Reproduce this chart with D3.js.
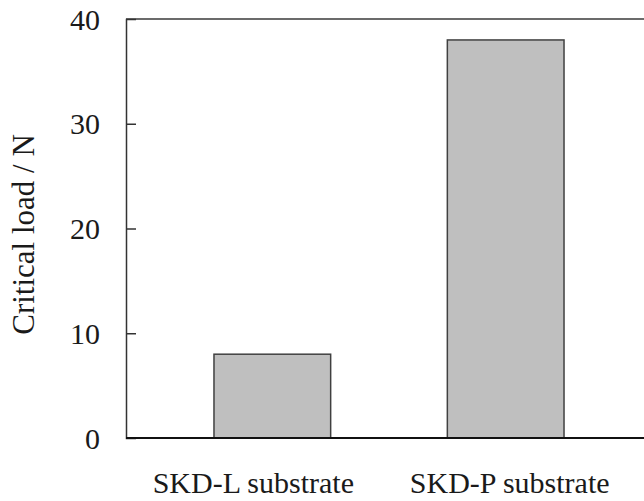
<!DOCTYPE html>
<html>
<head>
<meta charset="utf-8">
<script src="https://cdn.jsdelivr.net/npm/d3@7/dist/d3.min.js"></script>
<style>
  html, body { margin: 0; padding: 0; background: #fff; }
  svg { display: block; }
  text { font-family: "Liberation Serif", "Times New Roman", serif; fill: #1a1a1a; }
</style>
</head>
<body>
<svg id="chart" width="644" height="501"></svg>
<script>
// Substrates and their measured critical loads (N)
const categories = ["SKD-L substrate", "SKD-P substrate"];
const criticalLoad = [8, 38];
const yTicks = [0, 10, 20, 30, 40];
const yTitle = "Critical load / N";

const W = 644, H = 501;
const margin = { top: 19, right: -8, bottom: 63, left: 126 };
const x0 = margin.left, x1 = W - margin.right;
const y0 = H - margin.bottom, y1 = margin.top;

const svg = d3.select("#chart");

const x = d3.scaleBand()
  .domain(categories)
  .range([x0, x1])
  .paddingInner(0.5)
  .paddingOuter(0.377);

const y = d3.scaleLinear().domain([0, 40]).range([y0, y1]);

// Bars
svg.append("g")
  .selectAll("rect")
  .data(categories.map((c, i) => ({ c, v: criticalLoad[i] })))
  .join("rect")
  .attr("x", d => x(d.c))
  .attr("y", d => y(d.v))
  .attr("width", x.bandwidth())
  .attr("height", d => y(0) - y(d.v))
  .attr("fill", "#bfbfbf")
  .attr("stroke", "#404040")
  .attr("stroke-width", 1.5);

// Frame: top line, left axis, baseline
svg.append("line")
  .attr("x1", x0).attr("x2", W).attr("y1", y(40)).attr("y2", y(40))
  .attr("stroke", "#3a3a3a").attr("stroke-width", 1.5);

// Left axis with inward ticks
const yAxis = d3.axisLeft(y).tickValues(yTicks).tickSize(-10).tickPadding(26).tickFormat(d3.format("d"));
const gy = svg.append("g").attr("transform", `translate(${x0},0)`).call(yAxis);
gy.select(".domain").attr("stroke", "#333").attr("stroke-width", 1.5);
gy.selectAll(".tick line").attr("stroke", "#333").attr("stroke-width", 1.5)
  .filter(d => d === 0 || d === 40).remove();
gy.selectAll(".tick text")
  .attr("font-size", 30)
  .attr("font-family", "Liberation Serif, serif")
  .attr("fill", "#1a1a1a")
  .attr("dy", "0.34em");

svg.append("line")
  .attr("x1", x0).attr("x2", W).attr("y1", y(0)).attr("y2", y(0))
  .attr("stroke", "#111").attr("stroke-width", 2);

// Category labels under the baseline
const labelNudge = [-19, 4];
svg.append("g")
  .selectAll("text")
  .data(categories)
  .join("text")
  .attr("x", (d, i) => x(d) + x.bandwidth() / 2 + labelNudge[i])
  .attr("y", 493)
  .attr("text-anchor", "middle")
  .attr("font-size", 30)
  .text(d => d);

// Y axis title
svg.append("text")
  .attr("transform", `translate(34,${(y0 + y1) / 2 + 6}) rotate(-90)`)
  .attr("text-anchor", "middle")
  .attr("font-size", 31)
  .text(yTitle);
</script>
</body>
</html>
